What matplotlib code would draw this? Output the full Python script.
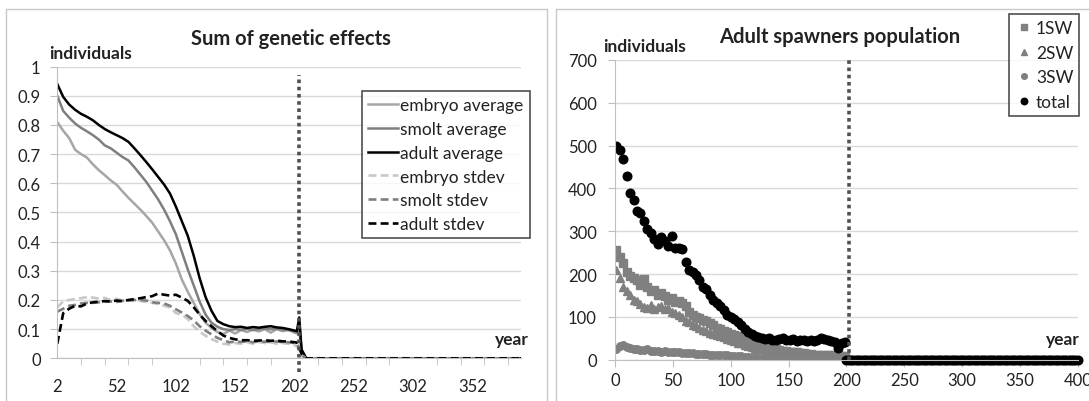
import numpy as np
import matplotlib.pyplot as plt
from matplotlib.patches import Rectangle
from matplotlib.ticker import FormatStrFormatter, MultipleLocator

plt.rcParams['font.family'] = ['Lato', 'DejaVu Sans']

# ---- left chart: sum of genetic effects ----
years_left = list(range(2, 203, 5)) + [204, 206, 208, 212, 392]

embryo_avg = [0.81, 0.78, 0.755, 0.715, 0.70, 0.688, 0.665, 0.645, 0.628, 0.61,
              0.595, 0.572, 0.55, 0.53, 0.51, 0.488, 0.465, 0.435, 0.405, 0.37,
              0.325, 0.27, 0.228, 0.19, 0.152, 0.122, 0.104, 0.09, 0.083, 0.095,
              0.085, 0.097, 0.09, 0.098, 0.092, 0.1, 0.088, 0.1, 0.093, 0.097,
              0.088, 0.085, 0.1, 0.02, 0.0, 0.0]
smolt_avg = [0.90, 0.848, 0.825, 0.805, 0.79, 0.778, 0.765, 0.75, 0.73, 0.72,
             0.705, 0.69, 0.678, 0.655, 0.63, 0.605, 0.575, 0.545, 0.51, 0.47,
             0.425, 0.365, 0.305, 0.25, 0.195, 0.15, 0.122, 0.108, 0.1, 0.097,
             0.1, 0.098, 0.101, 0.097, 0.1, 0.102, 0.1, 0.101, 0.098, 0.097,
             0.092, 0.09, 0.12, 0.025, 0.0, 0.0]
adult_avg = [0.94, 0.896, 0.87, 0.852, 0.838, 0.828, 0.816, 0.80, 0.786, 0.775,
             0.765, 0.755, 0.742, 0.72, 0.697, 0.673, 0.648, 0.622, 0.596, 0.565,
             0.52, 0.47, 0.42, 0.352, 0.275, 0.21, 0.163, 0.128, 0.117, 0.11,
             0.107, 0.108, 0.104, 0.107, 0.105, 0.108, 0.11, 0.106, 0.104, 0.1,
             0.095, 0.093, 0.14, 0.03, 0.0, 0.0]
embryo_sd = [0.175, 0.195, 0.2, 0.203, 0.206, 0.21, 0.208, 0.205, 0.207, 0.2,
             0.204, 0.197, 0.198, 0.197, 0.197, 0.193, 0.19, 0.186, 0.18, 0.174,
             0.155, 0.15, 0.135, 0.11, 0.092, 0.077, 0.066, 0.057, 0.05, 0.047,
             0.052, 0.05, 0.055, 0.05, 0.056, 0.052, 0.055, 0.05, 0.052, 0.05,
             0.045, 0.04, 0.03, 0.01, 0.0, 0.0]
smolt_sd = [0.16, 0.17, 0.18, 0.183, 0.188, 0.19, 0.19, 0.192, 0.195, 0.195,
            0.193, 0.197, 0.198, 0.2, 0.2, 0.198, 0.192, 0.19, 0.188, 0.18,
            0.168, 0.157, 0.145, 0.13, 0.11, 0.095, 0.082, 0.07, 0.062, 0.055,
            0.057, 0.056, 0.058, 0.055, 0.058, 0.057, 0.056, 0.058, 0.055, 0.055,
            0.052, 0.05, 0.035, 0.01, 0.0, 0.0]
adult_sd = [0.05, 0.155, 0.17, 0.18, 0.178, 0.188, 0.192, 0.194, 0.196, 0.195,
            0.198, 0.196, 0.2, 0.203, 0.206, 0.21, 0.213, 0.222, 0.218, 0.215,
            0.218, 0.208, 0.197, 0.175, 0.15, 0.128, 0.11, 0.093, 0.078, 0.07,
            0.065, 0.062, 0.062, 0.06, 0.061, 0.062, 0.06, 0.061, 0.058, 0.058,
            0.055, 0.054, 0.04, 0.015, 0.0, 0.0]

# ---- right chart: adult spawners ----
years_right = list(range(1, 200, 3))
sw1 = [257, 240, 225, 205, 195, 190, 185, 175, 188, 170, 160, 162, 150, 155, 148,
       140, 145, 135, 138, 132, 125, 112, 105, 100, 98, 92, 90, 85, 80, 75,
       72, 68, 65, 60, 58, 55, 55, 50, 45, 40, 38, 35, 32, 30, 28,
       26, 24, 22, 21, 20, 19, 18, 17, 15, 15, 14, 13, 12, 12, 12,
       11, 11, 10, 10, 10, 9, 9]
sw2 = [210, 190, 170, 160, 150, 140, 138, 130, 122, 120, 128, 118, 122, 125, 118,
       120, 112, 110, 105, 100, 90, 88, 82, 78, 75, 70, 68, 62, 60, 58,
       55, 52, 48, 45, 43, 40, 38, 35, 32, 30, 28, 26, 24, 22, 20,
       19, 18, 16, 15, 14, 13, 12, 11, 10, 10, 9, 9, 8, 8, 7,
       7, 7, 6, 6, 6, 5, 5]
sw3 = [25, 33, 35, 30, 28, 25, 24, 22, 22, 25, 21, 20, 20, 19, 20,
       18, 18, 17, 17, 16, 16, 15, 15, 14, 14, 13, 13, 12, 12, 11,
       11, 10, 10, 9, 9, 8, 8, 7, 7, 6, 6, 5, 5, 5, 4,
       4, 4, 3, 3, 3, 3, 3, 2, 2, 2, 2, 2, 2, 2, 2,
       2, 2, 2, 1, 1, 1, 1]
total = [500, 490, 468, 428, 390, 372, 348, 342, 325, 305, 295, 282, 270, 286, 278,
         266, 290, 262, 262, 258, 228, 210, 205, 198, 185, 170, 165, 150, 140, 132,
         125, 115, 105, 100, 95, 88, 80, 72, 65, 60, 55, 52, 50, 48, 50,
         47, 46, 48, 50, 45, 47, 48, 44, 46, 45, 43, 46, 44, 47, 50,
         48, 46, 44, 42, 28, 40, 42]
years_after = list(range(200, 401, 2))
total_after = [0] * len(years_after)

W, H = 1089, 402
fig = plt.figure(figsize=(W / 100, H / 100), dpi=100)
txt = '#222222'
grid = '#d9d9d9'
tick_fs = 12
leg_fs = 12.5
lab_fs = 12.5
title_fs = 14.5

# chart frames
fig.add_artist(Rectangle((6 / W, -0.1), 541 / W, (H - 10) / H + 0.1,
                         transform=fig.transFigure, fill=False, ec='#c8c8c8', lw=1))
fig.add_artist(Rectangle((556 / W, -0.1), 1.0, (H - 10) / H + 0.1,
                         transform=fig.transFigure, fill=False, ec='#c8c8c8', lw=1))


def style_axes(ax):
    for s in ['top', 'right']:
        ax.spines[s].set_visible(False)
    ax.spines['left'].set_color('#bfbfbf')
    ax.spines['bottom'].set_color('#bfbfbf')
    ax.grid(axis='y', color=grid, lw=1)
    ax.set_axisbelow(True)
    ax.tick_params(colors='#bfbfbf', labelcolor=txt, labelsize=tick_fs, length=5)


# left chart
ax1 = fig.add_axes([57.3 / W, 1 - 359.3 / H, (521 - 57.3) / W, 291.7 / H])
style_axes(ax1)
ax1.plot(years_left, embryo_avg, color='#a6a6a6', lw=1.8, label='embryo average')
ax1.plot(years_left, smolt_avg, color='#7f7f7f', lw=1.8, label='smolt average')
ax1.plot(years_left, adult_avg, color='black', lw=1.8, label='adult average')
ax1.plot(years_left, embryo_sd, color='#c8c8c8', lw=1.9, ls=(0, (3, 1.6)), label='embryo stdev')
ax1.plot(years_left, smolt_sd, color='#7f7f7f', lw=1.9, ls=(0, (3, 1.6)), label='smolt stdev')
ax1.plot(years_left, adult_sd, color='black', lw=1.9, ls=(0, (3, 1.6)), label='adult stdev')
ax1.plot([205.6, 205.6], [-0.047, 0.97], color='#505050', lw=2.6, ls=(0, (1, 1)),
         clip_on=False, zorder=5)
ax1.set_xlim(2, 393)
ax1.set_ylim(0, 1)
ax1.yaxis.set_major_locator(MultipleLocator(0.1))
ax1.yaxis.set_major_formatter(FormatStrFormatter('%g'))
ax1.set_xticks(range(2, 393, 50))
ax1.set_xticks(range(2, 393, 20), minor=True)
ax1.tick_params(axis='x', which='major', length=0, pad=14)
ax1.tick_params(axis='x', which='minor', length=5, colors='#bfbfbf')
ax1.tick_params(axis='y', pad=7)
leg1 = ax1.legend(loc='upper left', bbox_to_anchor=(362 / W, 1 - 92 / H),
                  bbox_transform=fig.transFigure, fontsize=leg_fs, frameon=True,
                  fancybox=False, edgecolor='#222222', handlelength=1.7,
                  handletextpad=0.15, labelspacing=0.45, borderpad=0.35,
                  borderaxespad=0)
leg1.get_frame().set_linewidth(1.2)
for t in leg1.get_texts():
    t.set_color(txt)
fig.text(291 / W, 1 - 39 / H, 'Sum of genetic effects', ha='center', va='center',
         fontsize=title_fs, fontweight='bold', color=txt)
fig.text(90 / W, 1 - 54 / H, 'individuals', ha='center', va='center',
         fontsize=lab_fs, fontweight='bold', color=txt)
fig.text(512 / W, 1 - 340 / H, 'year', ha='center', va='center',
         fontsize=lab_fs, fontweight='bold', color=txt)

# right chart
ax2 = fig.add_axes([615 / W, 1 - 360.7 / H, (1077.8 - 615) / W, 299.7 / H])
style_axes(ax2)
ax2.plot(years_right, sw1, ls='none', marker='s', ms=5.2, color='#808080', label='1SW')
ax2.plot(years_right, sw2, ls='none', marker='^', ms=5.8, color='#808080', label='2SW')
ax2.plot(years_right, sw3, ls='none', marker='o', ms=5.4, color='#808080', label='3SW')
ax2.plot(years_right, total, ls='none', marker='o', ms=6.2, color='black', label='total')
ax2.plot(years_after, total_after, ls='none', marker='o', ms=6.2, color='black',
         clip_on=False)
ax2.plot([202.5, 202.5], [0, 700], color='#505050', lw=2.6, ls=(0, (1, 1)), zorder=5)
ax2.set_xlim(0, 400)
ax2.set_ylim(0, 700)
ax2.set_xticks(range(0, 401, 50))
ax2.set_yticks(range(0, 701, 100))
ax2.tick_params(axis='x', pad=4)
ax2.tick_params(axis='y', pad=8)
leg2 = ax2.legend(loc='upper left', bbox_to_anchor=(1009 / W, 1 - 15 / H),
                  bbox_transform=fig.transFigure, fontsize=leg_fs, frameon=True,
                  fancybox=False, edgecolor='#222222', handlelength=1.0,
                  handletextpad=0.2, labelspacing=0.5, borderpad=0.35,
                  borderaxespad=0, markerscale=0.75)
leg2.get_frame().set_linewidth(1.2)
for t in leg2.get_texts():
    t.set_color(txt)
fig.text(840 / W, 1 - 37 / H, 'Adult spawners population', ha='center', va='center',
         fontsize=title_fs, fontweight='bold', color=txt)
fig.text(644 / W, 1 - 47 / H, 'individuals', ha='center', va='center',
         fontsize=lab_fs, fontweight='bold', color=txt)
fig.text(1063 / W, 1 - 340 / H, 'year', ha='center', va='center',
         fontsize=lab_fs, fontweight='bold', color=txt)

fig.savefig('out.png', dpi=100)
